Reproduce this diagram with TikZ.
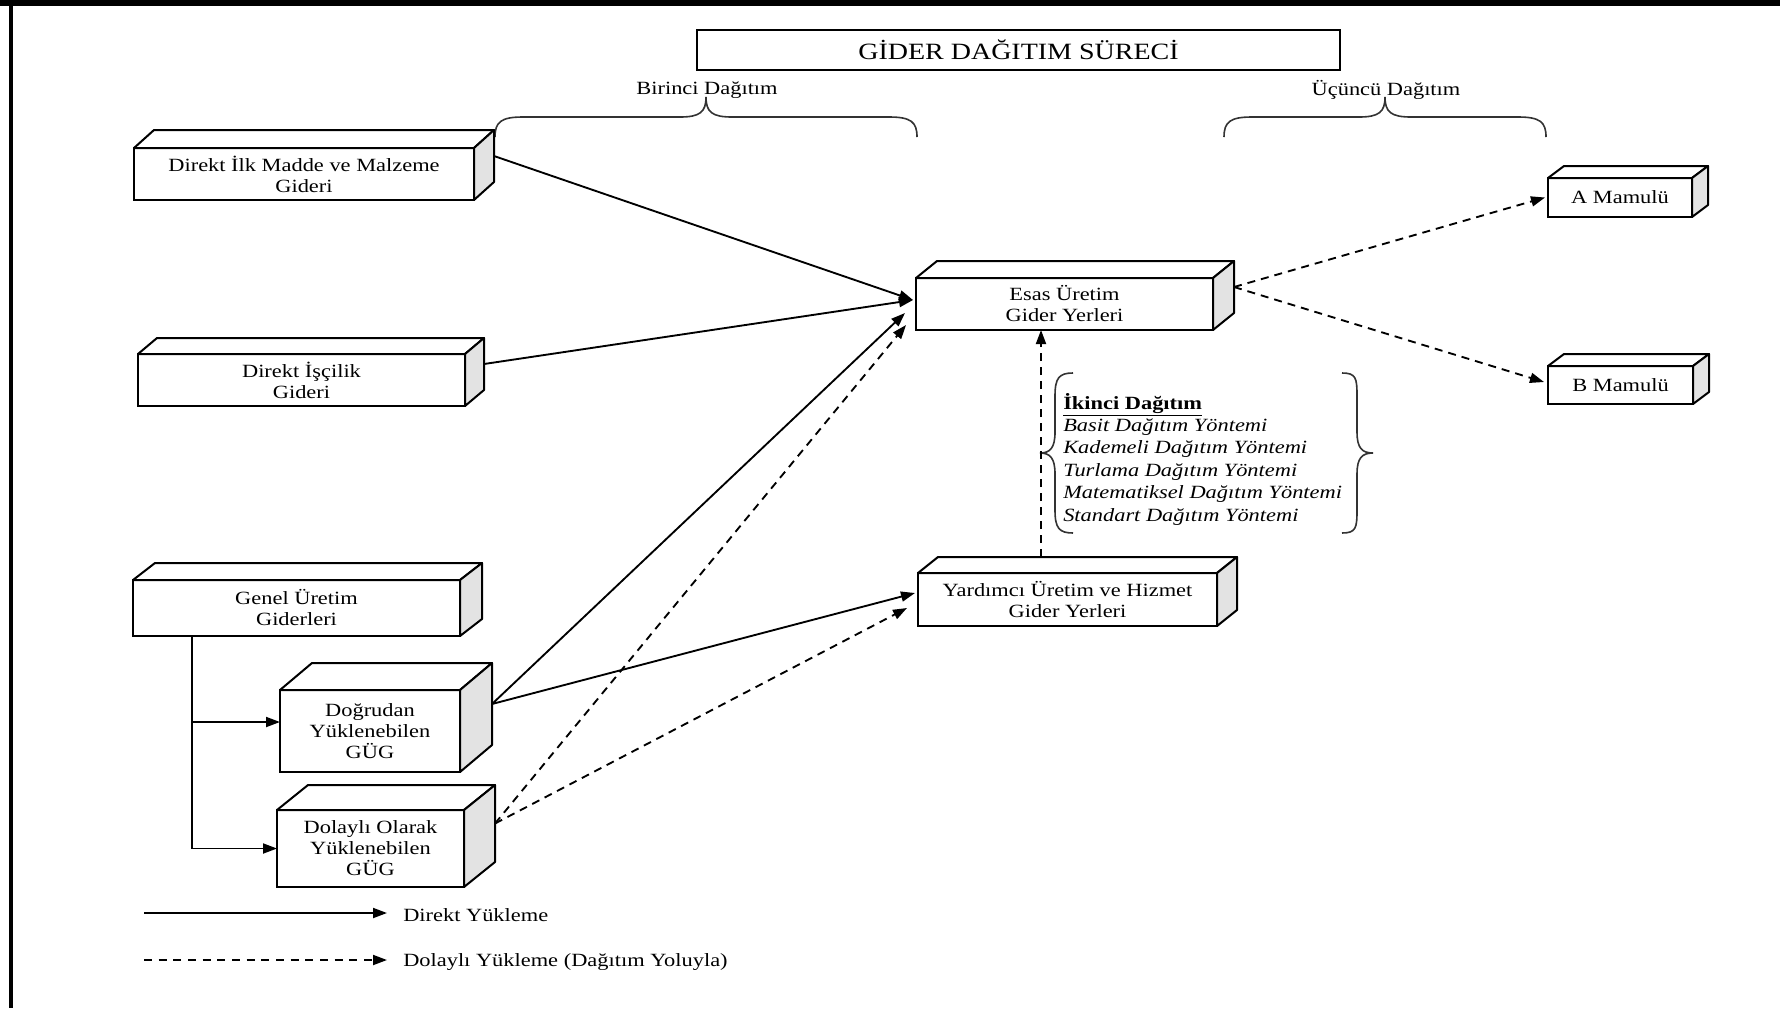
\documentclass[tikz,border=0pt]{standalone}
\usepackage{fontspec}
\setmainfont{Liberation Serif}[FakeStretch=1.2]
\usetikzlibrary{arrows.meta}
\tikzset{
  cubefront/.style={draw, fill=white, line width=1.5pt, inner sep=0pt, outer sep=0pt, align=center, font=\fontsize{14}{15.75}\selectfont},
  cubetop/.style={draw, fill=white, line width=1.5pt, line join=round},
  cubeside/.style={draw, fill=gray!22, line width=1.5pt, line join=round},
  direct/.style={line width=1.4pt, -{Triangle[length=10.5pt,width=7.5pt]}},
  indirect/.style={direct, dash pattern=on 6pt off 4.5pt},
  lbl/.style={font=\fontsize{14}{16}\selectfont, inner sep=0pt},
  bracestyle/.style={line width=1.2pt, draw=black!80},
}
\newcommand\cuboid[8]{%
  \node[cubefront, minimum width={(#4-#2)*0.75pt}, minimum height={(#5-#3)*0.75pt}] (#1) at ({(#2+#4)/2},{(#3+#5)/2}) {#8};
  \draw[cubetop] (#1.north west) -- ++(#6,-#7) -- ([shift={(#6,-#7)}]#1.north east) -- (#1.north east) -- cycle;
  \draw[cubeside] (#1.north east) -- ++(#6,-#7) -- ([shift={(#6,-#7)}]#1.south east) -- (#1.south east) -- cycle;
  \coordinate (#1r) at ([shift={(#6,-#7)}]#1.east);
}
\newcommand\hbrace[3]{%
  \draw[bracestyle] (#1,137) .. controls (#1,122) and (#1+6,117) .. (#1+28,117) -- (#2-26,117)
    .. controls (#2-6,117) and (#2,112) .. (#2,97) .. controls (#2,112) and (#2+6,117) .. (#2+26,117)
    -- (#3-28,117) .. controls (#3-6,117) and (#3,122) .. (#3,137);
}
\begin{document}
\begin{tikzpicture}[x=0.75pt,y=-0.75pt]
\useasboundingbox (0,0) rectangle (1780,1008);
% frame
\draw[line width=4.5pt] (0,3) -- (1780,3);
\draw[line width=3pt] (10.5,0) -- (10.5,1008);

% title
\node[draw, line width=1.2pt, minimum width={(1340-697)*0.75pt}, minimum height={40*0.75pt}, inner sep=0pt,
      font=\fontsize{17.5}{20}\selectfont] (title) at (1018.5,50) {GİDER DAĞITIM SÜRECİ};

% distribution labels and braces
\node[lbl] (birinci) at (707,90) {Birinci Dağıtım};
\hbrace{495}{706}{917}
\node[lbl] (ucuncu) at (1386,90) {Üçüncü Dağıtım};
\hbrace{1224}{1385}{1546}

% boxes
\cuboid{dim}{134}{148}{474}{200}{20}{18}{Direkt İlk Madde ve Malzeme\\Gideri}
\cuboid{dis}{138}{354}{465}{406}{19}{16}{Direkt İşçilik\\Gideri}
\cuboid{gug}{133}{580}{460}{636}{22}{17}{Genel Üretim\\Giderleri}
\cuboid{dog}{280}{690}{460}{772}{32}{27}{Doğrudan\\Yüklenebilen\\GÜG}
\cuboid{dol}{277}{810}{464}{887}{31}{25}{Dolaylı Olarak\\Yüklenebilen\\GÜG}
\cuboid{esas}{916}{278}{1213}{330}{21}{17}{Esas Üretim\\Gider Yerleri}
\cuboid{yard}{918}{573}{1217}{626}{20}{16}{Yardımcı Üretim ve Hizmet\\Gider Yerleri}
\cuboid{amam}{1548}{178}{1692}{217}{16}{12}{A Mamulü}
\cuboid{bmam}{1548}{366}{1693}{404}{16}{12}{B Mamulü}

% second distribution braces and text
\draw[bracestyle] (1073,373) .. controls (1059,373) and (1055,378) .. (1055,396) -- (1055,432)
  .. controls (1055,448) and (1050,453) .. (1040,453) .. controls (1050,453) and (1055,458) .. (1055,474)
  -- (1055,510) .. controls (1055,528) and (1059,533) .. (1073,533);
\draw[bracestyle] (1342,373) .. controls (1356,373) and (1357,378) .. (1357,396) -- (1357,432)
  .. controls (1357,448) and (1362,453) .. (1373,453) .. controls (1362,453) and (1357,458) .. (1357,474)
  -- (1357,510) .. controls (1357,528) and (1356,533) .. (1342,533);
\node[lbl, align=left, anchor=west, font=\fontsize{14}{16.8}\selectfont] (ikinci) at (1063,459)
  {\underline{\textbf{İkinci Dağıtım}}\\
   \textit{Basit Dağıtım Yöntemi}\\
   \textit{Kademeli Dağıtım Yöntemi}\\
   \textit{Turlama Dağıtım Yöntemi}\\
   \textit{Matematiksel Dağıtım Yöntemi}\\
   \textit{Standart Dağıtım Yöntemi}};

% connectors
\draw[direct] (dimr) -- ([shift={(-3,-4)}]esas.west);
\draw[direct] (disr) -- ([shift={(-3,-4)}]esas.west);
\draw[direct] (dogr) -- ([shift={(-11,9)}]esas.west);
\draw[direct] (dogr) -- ([shift={(-3,-6.5)}]yard.west);
\draw[indirect] (dolr) -- ([shift={(-10,21)}]esas.west);
\draw[indirect] (dolr) -- ([shift={(-11,8.5)}]yard.west);
\coordinate (yt) at (1041,557);
\draw[indirect] (yt) -- (yt |- esas.south);
\draw[indirect] (esasr) -- ([shift={(-3,0)}]amam.west);
\draw[indirect] (esasr) -- ([shift={(-4,-3)}]bmam.west);
\coordinate (gb) at (192,636);
\draw[direct] (gb) |- ([shift={(0,-9)}]dog.west);
\draw[direct] (gb) |- (dol.west);

% legend
\coordinate (l1s) at (144,913);
\coordinate (l1e) at (387,913);
\draw[direct] (l1s) -- (l1e);
\node[lbl, anchor=west] (l1t) at (403,915) {Direkt Yükleme};
\coordinate (l2s) at (144,960);
\coordinate (l2e) at (387,960);
\draw[direct, dash pattern=on 6pt off 5pt] (l2s) -- (l2e);
\node[lbl, anchor=west] (l2t) at (403,962) {Dolaylı Yükleme (Dağıtım Yoluyla)};
\end{tikzpicture}
\end{document}
